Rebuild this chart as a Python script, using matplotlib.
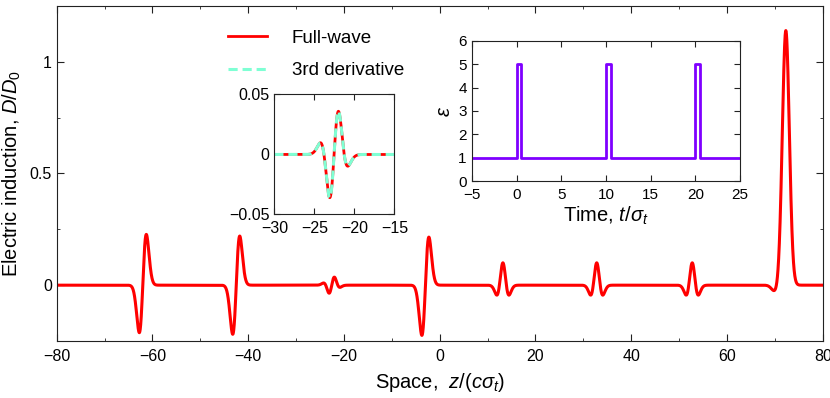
import numpy as np
import matplotlib.pyplot as plt
from matplotlib.lines import Line2D
from matplotlib.ticker import MultipleLocator

plt.rcParams['font.family'] = 'Liberation Sans'
plt.rcParams['mathtext.fontset'] = 'custom'
plt.rcParams['mathtext.rm'] = 'Liberation Sans'
plt.rcParams['mathtext.it'] = 'Liberation Sans:italic'
plt.rcParams['axes.edgecolor'] = '#222222'
plt.rcParams['xtick.color'] = '#222222'
plt.rcParams['ytick.color'] = '#222222'
plt.rcParams['xtick.labelcolor'] = 'black'
plt.rcParams['ytick.labelcolor'] = 'black'

# pulses: centre and weight of each Gaussian-derivative part
pulse_z = [-62.0, -42.5, -22.55, -3.0, 13.2, 32.8, 52.75, 72.3, 70.1]
gauss_amp = [0.012, 0.0, 0.0, -0.008, 0.0, 0.0, 0.0, 1.14, -0.03]
deriv1_amp = [0.22, 0.22, 0.0, 0.22, 0.0, 0.0, 0.0, 0.0, 0.0]
deriv2_amp = [0.0, 0.0, 0.0, 0.0, 0.10, 0.10, 0.10, 0.0, 0.0]
deriv3_amp = [0.0, 0.0, 0.036, 0.0, 0.0, 0.0, 0.0, 0.0, 0.0]
pulse_width = 0.73

# permittivity steps (inset)
eps_t = [-5, 0, 0.5, 10, 10.5, 20, 20.5, 25]
eps_val = [1, 5, 1, 5, 1, 5, 1, 1]

z = np.linspace(-80, 80, 8001)
D = np.zeros_like(z)
for c, a0, a1, a2, a3 in zip(pulse_z, gauss_amp, deriv1_amp, deriv2_amp, deriv3_amp):
    u = (z - c) / pulse_width
    g = np.exp(-u**2 / 2)
    D += a0 * g + a1 * u * g / np.exp(-0.5) + a2 * (1 - u**2) * g + a3 * (3*u - u**3) * g / 1.38

red = '#ff0000'
cyan = '#7fffd4'
purple = '#7f00ff'

fig = plt.figure(figsize=(8.3, 3.98), dpi=100)

# main axes
ax = fig.add_axes([0.0683, 0.1432, 0.9229, 0.8418])
ax.plot(z, D, color=red, lw=2.2)
ax.set_xlim(-80, 80)
ax.set_ylim(-0.25, 1.25)
ax.xaxis.set_major_locator(MultipleLocator(20))
ax.xaxis.set_minor_locator(MultipleLocator(10))
ax.set_yticks([0, 0.5, 1])
ax.set_yticklabels(['0', '0.5', '1'])
ax.yaxis.set_minor_locator(MultipleLocator(0.25))
ax.tick_params(which='both', direction='in', top=True, right=True, labelsize=11.5)
ax.tick_params(which='major', length=5)
ax.tick_params(which='minor', length=2.5)
ax.tick_params(axis='x', pad=6)
ax.set_xlabel(r'Space,  $z/(c\sigma_t)$', fontsize=14.5, labelpad=5)
ax.set_ylabel(r'Electric induction, $D/D_0$', fontsize=14.5, labelpad=5)

# inset: zoom on the weak pulse
ins1 = fig.add_axes([0.3307, 0.4611, 0.1446, 0.3015])
ins1.plot(z, D, color=red, lw=2.0)
ins1.plot(z, D, color=cyan, lw=2.2, dashes=(3, 1.6))
ins1.set_xlim(-30, -15)
ins1.set_ylim(-0.05, 0.05)
ins1.set_xticks([-30, -25, -20, -15])
ins1.set_yticks([-0.05, 0, 0.05])
ins1.set_yticklabels(['\u22120.05', '0', '0.05'])
ins1.tick_params(direction='in', top=True, right=True, labelsize=11.5, length=4)
ins1.tick_params(axis='x', pad=5)

# inset: permittivity versus time
ins2 = fig.add_axes([0.5690, 0.5445, 0.3225, 0.3533])
ins2.plot(eps_t, eps_val, color=purple, lw=2.0, drawstyle='steps-post')
ins2.set_xlim(-5, 25)
ins2.set_ylim(0, 6)
ins2.xaxis.set_major_locator(MultipleLocator(5))
ins2.yaxis.set_major_locator(MultipleLocator(1))
ins2.tick_params(direction='in', top=True, right=True, labelsize=11, length=4)
ins2.tick_params(axis='x', pad=5)
ins2.tick_params(axis='y', pad=4)
ins2.set_xlabel(r'Time, $t/\sigma_t$', fontsize=14.5, labelpad=2)
ins2.set_ylabel(r'$\varepsilon$', fontsize=14.5, labelpad=3)

handles = [Line2D([], [], color=red, lw=2.0),
           Line2D([], [], color=cyan, lw=2.2, dashes=(3, 1.6))]
fig.legend(handles, ['Full-wave', '3rd derivative'], loc='upper left',
           bbox_to_anchor=(0.2747, 0.925), frameon=False, fontsize=13.5,
           handlelength=2.1, handletextpad=1.3, labelspacing=0.8,
           borderpad=0, borderaxespad=0)

fig.savefig('out.png', dpi=100)
